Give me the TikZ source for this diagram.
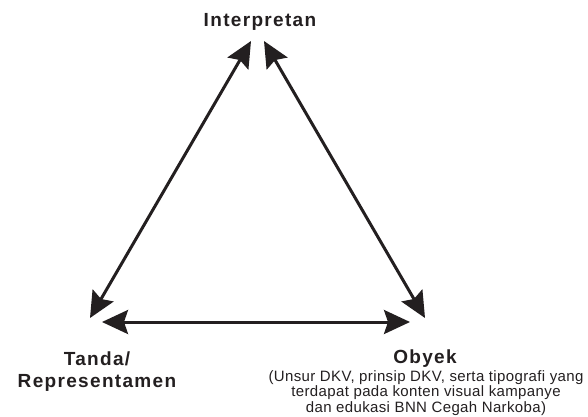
\documentclass[tikz,border=0pt]{standalone}
\usepackage{fontspec}
\setmainfont{Liberation Sans}
\usetikzlibrary{arrows.meta}
\definecolor{ink}{HTML}{231F20}
\begin{document}
\begin{tikzpicture}[x=1pt,y=-1pt,
  arr/.style={draw=ink,line width=3pt,{Stealth[length=26pt,width=24pt,inset=4pt]}-{Stealth[length=26pt,width=24pt,inset=4pt]}},
  head/.style={text=ink,font=\fontsize{19}{22}\selectfont\addfontfeature{LetterSpace=7}\bfseries,align=center,inner sep=0pt},
  sub/.style={text=ink,font=\fontsize{15}{15.5}\selectfont\addfontfeature{LetterSpace=2.5},align=center,inner sep=0pt}]
\useasboundingbox (0,0) rectangle (588,416);
\node[head,anchor=base] (interp) at (260,26) {Interpretan};
\node[head,anchor=base] (tanda) at (97,387) {Tanda/\\Representamen};
\node[head,anchor=base] (obyek) at (425,363) {Obyek};
\node[sub,anchor=base] (desc) at (426,412) {(Unsur DKV, prinsip DKV, serta tipografi yang\\terdapat pada konten visual kampanye\\dan edukasi BNN Cegah Narkoba)};
\coordinate (iL) at (251,41);
\coordinate (iR) at (264,41);
\coordinate (tD) at (90,318);
\coordinate (tH) at (102,322);
\coordinate (oD) at (425,318);
\coordinate (oH) at (410,322);
\draw[arr] (iL) -- (tD);
\draw[arr] (iR) -- (oD);
\draw[arr] (tH) -- (oH);
\end{tikzpicture}
\end{document}
